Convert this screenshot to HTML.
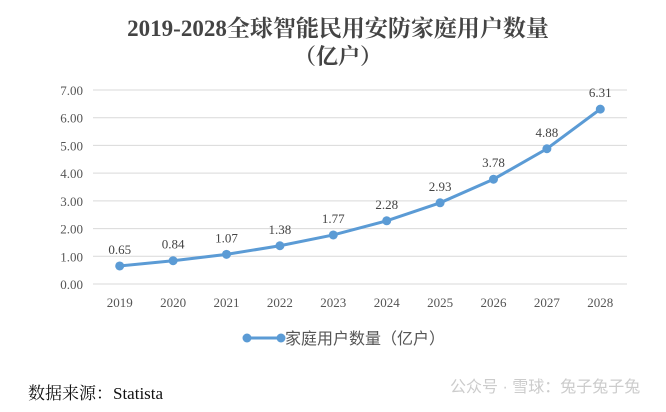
<!DOCTYPE html>
<html><head><meta charset="utf-8"><style>
body{margin:0;background:#fff;width:666px;height:412px;overflow:hidden}
svg{display:block}
</style></head><body>
<svg width="666" height="412" font-family="'Liberation Serif','Noto Serif CJK SC',serif">
<text x="338" y="36" text-anchor="middle" font-size="23" font-weight="bold" fill="#444">2019-2028全球智能民用安防家庭用户数量</text>
<text x="338" y="64" text-anchor="middle" font-size="22" font-weight="bold" fill="#444">（亿户）</text>
<g id="grid"></g><g id="xl"></g><g id="series"></g>
<g>
<line x1="247" y1="338" x2="281" y2="338" stroke="#5b9bd5" stroke-width="3"/>
<circle cx="247" cy="338" r="4.5" fill="#5b9bd5"/><circle cx="281" cy="338" r="4.5" fill="#5b9bd5"/>
<text x="285" y="344" font-size="16" fill="#555" font-family="'Liberation Sans','Noto Sans CJK SC',sans-serif">家庭用户数量（亿户）</text>
</g>
<text x="28" y="399" font-size="17" fill="#111">数据来源：Statista</text>
<text x="450" y="392" font-size="16" fill="#ccc" font-family="'Liberation Sans','Noto Sans CJK SC',sans-serif">公众号 · 雪球：兔子兔子兔</text>
</svg>
<script>
const years=["2019","2020","2021","2022","2023","2024","2025","2026","2027","2028"];
const values=[0.65,0.84,1.07,1.38,1.77,2.28,2.93,3.78,4.88,6.31];
const yTicks=[0,1,2,3,4,5,6,7];
const NS="http://www.w3.org/2000/svg";
const x0=93,x1=627,y0=284,yTop=90;
const step=(x1-x0)/years.length;
const xs=i=>x0+step*(i+0.5);
const ys=v=>y0-(v/7)*(y0-yTop);
function mk(t,a,p){const e=document.createElementNS(NS,t);for(const k in a)e.setAttribute(k,a[k]);p.appendChild(e);return e;}
const grid=document.getElementById('grid');
yTicks.forEach(t=>{
 const l=mk('line',{x1:x0,x2:x1,y1:ys(t),y2:ys(t),stroke:'#d9d9d9','stroke-width':1},grid);
 
 
 const tx=mk('text',{x:83,y:ys(t)+5,'text-anchor':'end','font-size':13,fill:'#555'},grid);
 tx.textContent=t.toFixed(2);
 
 
});
const xl=document.getElementById('xl');
years.forEach((y,i)=>{
 const tx=mk('text',{x:xs(i),y:307,'text-anchor':'middle','font-size':13,fill:'#555'},xl);
 tx.textContent=y;
 
 
});
const s=document.getElementById('series');
const pl=mk('polyline',{points:values.map((v,i)=>xs(i)+','+ys(v)).join(' '),fill:'none',stroke:'#5b9bd5','stroke-width':3},s);


values.forEach((v,i)=>{
 const c=mk('circle',{cx:xs(i),cy:ys(v),r:4.5,fill:'#5b9bd5'},s);
 
 
 const t=mk('text',{x:xs(i),y:ys(v)-12,'text-anchor':'middle','font-size':13,fill:'#444'},s);
 t.textContent=v.toFixed(2);
 
 
});
</script>
</body></html>
